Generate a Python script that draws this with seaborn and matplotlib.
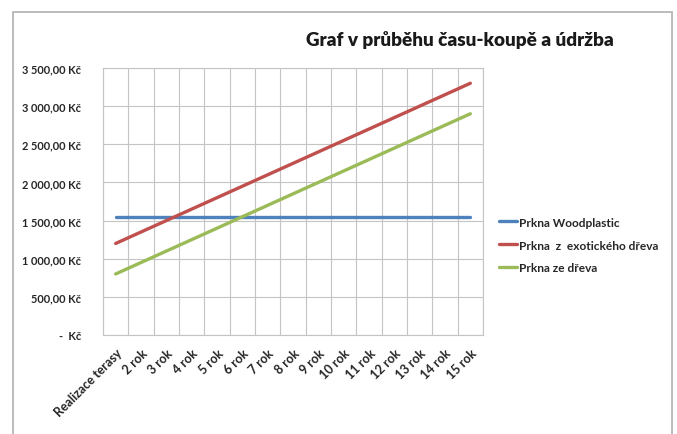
import numpy as np
import pandas as pd
import matplotlib
matplotlib.use("Agg")
import matplotlib.pyplot as plt
from matplotlib.patches import Rectangle
from matplotlib.ticker import FuncFormatter
import seaborn as sns

# kategorie na ose x
roky = ["Realizace terasy"] + [f"{i} rok" for i in range(2, 16)]

# náklady (Kč)
woodplastic = [1550] * 15
exoticke = [1200, 1350, 1500, 1650, 1800, 1950, 2100, 2250, 2400, 2550,
            2700, 2850, 3000, 3150, 3300]
drevo = [800, 950, 1100, 1250, 1400, 1550, 1700, 1850, 2000, 2150,
         2300, 2450, 2600, 2750, 2900]

serie = ["Prkna Woodplastic", "Prkna  z  exotického dřeva", "Prkna ze dřeva"]
barvy = ["#4F81BD", "#C0504D", "#9BBB59"]

sns.set_theme(style="white")
plt.rcParams["font.family"] = ["Lato", "DejaVu Sans"]
plt.rcParams["font.weight"] = "bold"


def load_data():
    df = pd.DataFrame({
        "rok": roky * 3,
        "cena": woodplastic + exoticke + drevo,
        "typ": [serie[0]] * 15 + [serie[1]] * 15 + [serie[2]] * 15,
    })
    return df


def kc(v, pos):
    if abs(v) < 1e-9:
        return "-  Kč"
    s = f"{v:,.2f}".replace(",", " ").replace(".", ",")
    return s + " Kč"


def main():
    df = load_data()
    fig = plt.figure(figsize=(6.77, 4.35), dpi=100)
    # rámeček grafu
    fig.patches.append(Rectangle((13 / 677, -0.05), (672 - 13) / 677, 1.05 - 13 / 435,
                                 transform=fig.transFigure, fill=False,
                                 edgecolor="#b0b0b0", linewidth=1.2))
    ax = fig.add_axes([103 / 677, 1 - 336 / 435, 380 / 677, (336 - 69) / 435])

    sns.lineplot(data=df, x="rok", y="cena", hue="typ", hue_order=serie,
                 palette=barvy, sort=False, linewidth=2.4, ax=ax)

    ax.set_xlim(-0.5, 14.5)
    ax.set_ylim(0, 3500)
    ax.set_yticks(np.arange(0, 3501, 500))
    ax.yaxis.set_major_formatter(FuncFormatter(kc))
    ax.set_xticks(np.arange(-0.5, 15, 1), minor=True)
    ax.grid(axis="y", which="major", color="#c4c4c4", linewidth=0.8)
    ax.grid(axis="x", which="minor", color="#c4c4c4", linewidth=0.8)
    ax.grid(axis="x", which="major", visible=False)
    ax.tick_params(axis="both", which="both", length=0)
    ax.tick_params(axis="y", pad=16, labelsize=7.9)
    ax.tick_params(axis="x", pad=8, labelsize=9)
    for lab in ax.get_xticklabels():
        lab.set_rotation(45)
        lab.set_ha("right")
        lab.set_rotation_mode("anchor")
        lab.set_fontweight("bold")
    for lab in ax.get_yticklabels():
        lab.set_fontweight("bold")
    for sp in ax.spines.values():
        sp.set_color("#c4c4c4")
        sp.set_linewidth(0.8)
    ax.set_xlabel("")
    ax.set_ylabel("")

    ax.legend(loc="center left", bbox_to_anchor=(1.015, 0.337), frameon=False,
              handlelength=1.5, handletextpad=0.1, labelspacing=1.0,
              prop={"size": 8.6, "weight": "bold"})
    for h in ax.get_legend().get_lines():
        h.set_linewidth(2.4)

    fig.text(460 / 677, 1 - 40 / 435, "Graf v průběhu času-koupě a údržba",
             ha="center", va="center", fontsize=13.6, fontweight="heavy",
             color="#1a1a1a")

    fig.savefig("out.png", dpi=100)
    plt.close(fig)


if __name__ == "__main__":
    main()
